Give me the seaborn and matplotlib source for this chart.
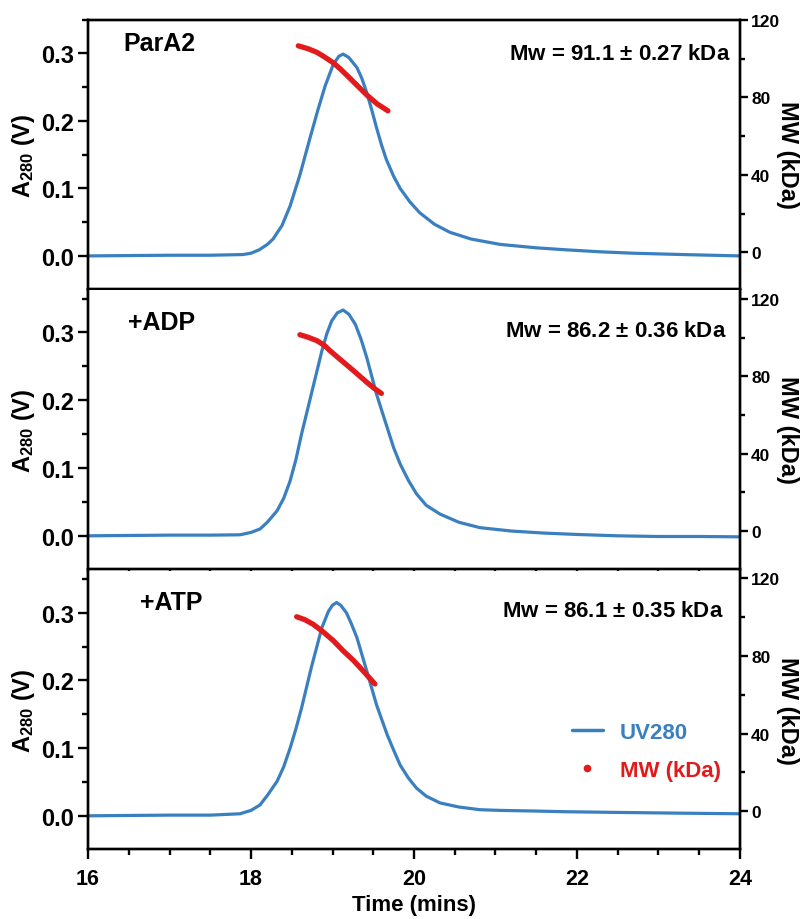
import numpy as np
import matplotlib
matplotlib.use("Agg")
import matplotlib.pyplot as plt
from matplotlib.lines import Line2D
from matplotlib.ticker import MultipleLocator
import seaborn as sns

# ---- data ----
t_para2 = [16.0, 16.5, 17.0, 17.5, 17.9, 18.0, 18.1, 18.2, 18.27, 18.38, 18.48, 18.6, 18.72, 18.82,
           18.91, 19.01, 19.08, 19.13, 19.2, 19.3, 19.36, 19.42, 19.48, 19.54, 19.6, 19.66, 19.75,
           19.83, 19.95, 20.07, 20.25, 20.44, 20.7, 21.06, 21.5, 21.87, 22.3, 22.69, 23.3, 24.0]
uv_para2 = [0.0, 0.0005, 0.001, 0.001, 0.002, 0.004, 0.009, 0.017, 0.025, 0.045, 0.074, 0.12, 0.173, 0.216,
            0.252, 0.284, 0.296, 0.299, 0.294, 0.279, 0.263, 0.242, 0.217, 0.190, 0.165, 0.143, 0.118,
            0.100, 0.080, 0.064, 0.047, 0.035, 0.025, 0.017, 0.012, 0.009, 0.006, 0.004, 0.002, 0.0]
mwt_para2 = [18.58, 18.7, 18.81, 18.9, 19.01, 19.1, 19.2, 19.3, 19.42, 19.55, 19.68]
mw_para2 = [106.7, 105.2, 103.3, 101.0, 97.9, 94.6, 90.5, 86.3, 81.3, 76.6, 73.1]

t_adp = [16.0, 16.5, 17.0, 17.5, 17.865, 18.0, 18.11, 18.2, 18.32, 18.4, 18.48, 18.55, 18.62,
         18.74, 18.87, 18.93, 18.99, 19.06, 19.13, 19.2, 19.28, 19.35, 19.42, 19.54, 19.67,
         19.75, 19.83, 19.93, 20.03, 20.15, 20.32, 20.55, 20.81, 21.2, 21.6, 22.0, 22.5, 23.0, 23.5, 24.0]
uv_adp = [0.0, 0.0005, 0.001, 0.001, 0.0015, 0.005, 0.010, 0.02, 0.037, 0.055, 0.081, 0.112, 0.150,
          0.209, 0.273, 0.298, 0.317, 0.329, 0.333, 0.327, 0.312, 0.290, 0.263, 0.209, 0.160,
          0.130, 0.106, 0.082, 0.062, 0.045, 0.032, 0.020, 0.012, 0.007, 0.004, 0.002, 0.0, -0.001, -0.001, -0.0015]
mwt_adp = [18.6, 18.7, 18.81, 18.9, 18.97, 19.1, 19.21, 19.32, 19.42, 19.51, 19.6]
mw_adp = [101.5, 100.2, 98.4, 96.0, 93.2, 88.5, 84.6, 80.6, 76.9, 73.8, 71.1]

t_atp = [16.0, 16.5, 17.0, 17.5, 17.865, 18.0, 18.11, 18.2, 18.32, 18.4, 18.48, 18.55, 18.62,
         18.74, 18.87, 18.95, 19.0, 19.05, 19.1, 19.17, 19.23, 19.3, 19.42, 19.54, 19.67,
         19.75, 19.83, 19.93, 20.03, 20.15, 20.32, 20.55, 20.81, 21.06, 21.5, 21.87, 22.5, 23.2, 24.0]
uv_atp = [0.0, 0.0005, 0.001, 0.001, 0.003, 0.008, 0.016, 0.03, 0.051, 0.072, 0.100, 0.128, 0.159,
          0.219, 0.278, 0.302, 0.311, 0.315, 0.311, 0.300, 0.284, 0.263, 0.214, 0.164, 0.120,
          0.097, 0.075, 0.056, 0.041, 0.029, 0.019, 0.013, 0.009, 0.008, 0.007, 0.006, 0.005, 0.004, 0.003]
mwt_atp = [18.56, 18.66, 18.76, 18.88, 19.01, 19.13, 19.26, 19.39, 19.52]
mw_atp = [100.1, 98.6, 96.3, 92.5, 87.8, 82.6, 77.5, 71.6, 65.5]

labels = ["ParA2", "+ADP", "+ATP"]
mw_text = ["Mw = 91.1 $\\pm$ 0.27 kDa", "Mw = 86.2 $\\pm$ 0.36 kDa", "Mw = 86.1 $\\pm$ 0.35 kDa"]

blue = "#3a80c0"
red = "#e31a1c"

sns.set_style("ticks")
plt.rcParams['font.family'] = ['Liberation Sans', 'DejaVu Sans']
plt.rcParams['font.weight'] = 'bold'
plt.rcParams['text.color'] = 'black'
plt.rcParams['axes.labelcolor'] = 'black'
plt.rcParams['xtick.color'] = 'black'
plt.rcParams['ytick.color'] = 'black'
plt.rcParams['mathtext.fontset'] = 'custom'
plt.rcParams['mathtext.rm'] = 'Liberation Sans'
plt.rcParams['mathtext.it'] = 'Liberation Sans:italic'
plt.rcParams['mathtext.bf'] = 'Liberation Sans:bold'

fig = plt.figure(figsize=(8.06, 9.2), dpi=100)

# axes boxes in figure fraction
boxes = [(0.1092, 0.6848, 0.8089, 0.2927),
         (0.1092, 0.3804, 0.8089, 0.3036),
         (0.1092, 0.0761, 0.8089, 0.3025)]
ylims = [(-0.049, 0.35), (-0.049, 0.363), (-0.049, 0.362)]
y2lims = [(-19, 120.2), (-19.8, 124.8), (-19.4, 123.8)]
lab_pos = [(0.054, 0.913), (0.061, 0.884), (0.080, 0.888)]
mw_pos = [(0.985, 0.876), (0.980, 0.853), (0.974, 0.856)]

series = [(t_para2, uv_para2, mwt_para2, mw_para2),
          (t_adp, uv_adp, mwt_adp, mw_adp),
          (t_atp, uv_atp, mwt_atp, mw_atp)]

for i, (t, uv, mt, mw) in enumerate(series):
    ax = fig.add_axes(boxes[i])
    ax2 = ax.twinx()
    sns.lineplot(x=t, y=uv, ax=ax, color=blue, linewidth=2.3)
    sns.lineplot(x=mt, y=mw, ax=ax2, color=red, linewidth=3.8, solid_capstyle='round')

    ax.set_xlim(16, 24)
    ax.set_ylim(*ylims[i])
    ax2.set_ylim(*y2lims[i])
    ax.xaxis.set_major_locator(MultipleLocator(2))
    ax.xaxis.set_minor_locator(MultipleLocator(0.5))
    ax.yaxis.set_major_locator(MultipleLocator(0.1))
    ax.yaxis.set_minor_locator(MultipleLocator(0.05))
    ax2.yaxis.set_major_locator(MultipleLocator(40))
    ax2.yaxis.set_minor_locator(MultipleLocator(20))

    for a in (ax, ax2):
        for name, s in a.spines.items():
            s.set_linewidth(1.7)
            s.set_color('black')
            s.set_visible(not (name == 'top' and i > 0))
    ax.tick_params(axis='y', which='major', direction='out', length=7, width=1.7,
                   labelsize=17, pad=3)
    ax.tick_params(axis='x', which='major', direction='out', length=7, width=1.7,
                   labelsize=15.5, pad=7)
    ax.tick_params(axis='both', which='minor', direction='out', length=4, width=1.7)
    ax2.tick_params(axis='y', which='major', direction='out', length=6, width=1.7,
                    labelsize=12.5, pad=2)
    ax2.tick_params(axis='y', which='minor', direction='out', length=3.5, width=1.7)
    for lab in ax.get_yticklabels() + ax.get_xticklabels() + ax2.get_yticklabels():
        lab.set_fontweight('bold')

    ax.set_ylabel("A$_{\\mathrm{280}}$ (V)", fontsize=17, fontweight='bold', labelpad=3)
    ax2.set_ylabel("MW (kDa)", fontsize=17, fontweight='bold', rotation=270,
                   va='bottom', labelpad=-3)
    if i < 2:
        ax.tick_params(axis='x', labelbottom=False)
        ax.set_xlabel("")
    else:
        ax.set_xlabel("Time (mins)", fontsize=16, fontweight='bold', labelpad=3)

    ax.text(lab_pos[i][0], lab_pos[i][1], labels[i], transform=ax.transAxes,
            fontsize=18, fontweight='bold', ha='left', va='center')
    ax2.text(mw_pos[i][0], mw_pos[i][1], mw_text[i], transform=ax.transAxes,
             fontsize=16, fontweight='bold', ha='right', va='center')

    if i == 2:
        handles = [Line2D([0], [0], color=blue, lw=2.5),
                   Line2D([0], [0], color=red, marker='o', ls='', markersize=4.5)]
        leg = ax2.legend(handles, ["UV280", "MW (kDa)"], loc='center left',
                         bbox_to_anchor=(0.742, 0.35), frameon=False,
                         prop={'size': 16, 'weight': 'bold'}, labelcolor=[blue, red],
                         handlelength=1.4, handletextpad=0.75, labelspacing=0.75,
                         borderaxespad=0, borderpad=0)

fig.savefig("out.png", dpi=100)
